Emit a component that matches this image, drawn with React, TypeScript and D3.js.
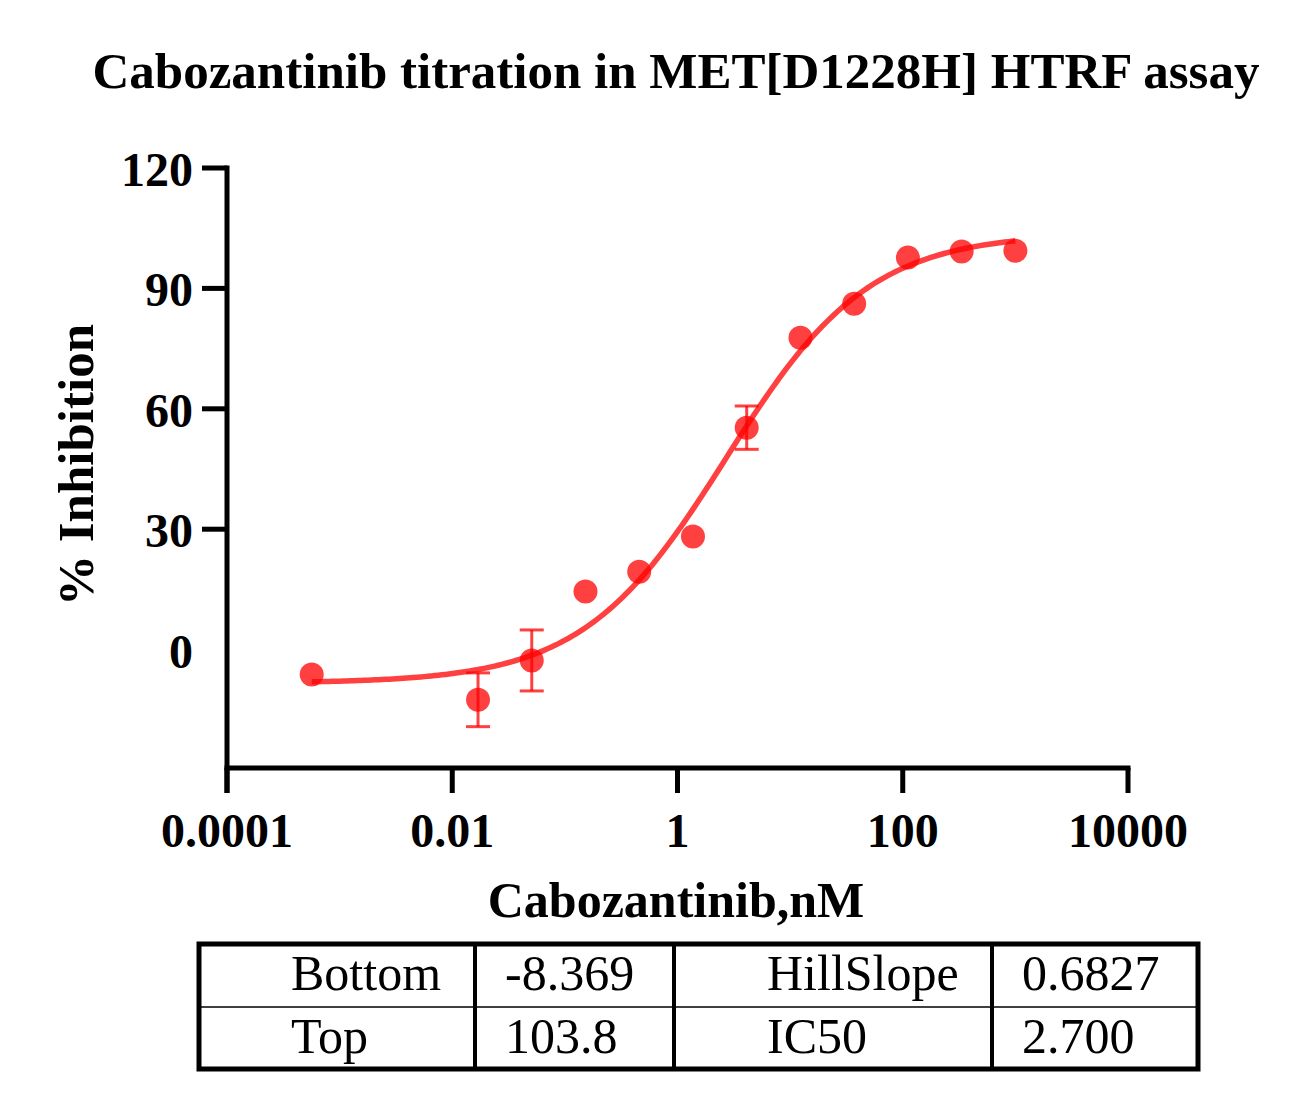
import { useMemo } from 'react'
import { scaleLog, scaleLinear, line, range } from 'd3'

// Cabozantinib concentrations (nM) and mean % inhibition with error (SD)
const CONC = [0.000565, 0.01694, 0.0508, 0.1524, 0.457, 1.372, 4.115, 12.35, 37.04, 111.1, 333.3, 1000]
const INHIBITION = [-6.2, -12.5, -2.7, 14.5, 19.4, 28.2, 55.3, 77.7, 86.2, 97.7, 99.2, 99.4]
const ERROR = [0, 6.7, 7.6, 0, 0, 0, 5.4, 0, 0, 0, 0, 0]

const X_TICKS = [0.0001, 0.01, 1, 100, 10000]
const X_TICK_LABELS = ['0.0001', '0.01', '1', '100', '10000']
const Y_TICKS = [120, 90, 60, 30]
const Y_LABELS = [120, 90, 60, 30, 0]

// fitted 4PL parameters, shown in the table under the plot
const FIT_NAMES = ['Bottom', 'Top', 'HillSlope', 'IC50']
const FIT_VALUES = [-8.369, 103.8, 0.6827, 2.7]
const FIT_TEXT = ['-8.369', '103.8', '0.6827', '2.700']

const RED = '#ff0000'
const SERIF = '"Liberation Serif", "Times New Roman", serif'

export default function App() {
  const x = scaleLog().domain([1e-4, 1e4]).range([227, 1128])
  const y = scaleLinear().domain([-29.5, 120]).range([768, 168])

  const curve = useMemo(() => {
    const [bottom, top, hill, ic50] = FIT_VALUES
    const lo = Math.log10(CONC[0])
    const hi = Math.log10(CONC[CONC.length - 1])
    const xs = range(0, 201).map((i) => Math.pow(10, lo + ((hi - lo) * i) / 200))
    const gen = line<number>()
      .x((c) => x(c))
      .y((c) => y(bottom + (top - bottom) / (1 + Math.pow(ic50 / c, hill))))
    return gen(xs) ?? ''
  }, [])

  const rowY = [990, 1053]
  const colX = [291, 505, 767, 1022]

  return (
    <svg width={1304} height={1101} style={{ display: 'block', margin: '-8px' }} fontFamily={SERIF}>
      <rect width={1304} height={1101} fill="#fff" />
      <text x={676} y={88} textAnchor="middle" fontSize={51} fontWeight="bold">
        Cabozantinib titration in MET[D1228H] HTRF assay
      </text>

      {/* axes */}
      <g stroke="#000" strokeWidth={5}>
        <line x1={x(1e-4)} x2={x(1e-4)} y1={y(120) - 2.5} y2={793} />
        <line x1={x(1e-4) - 2.5} x2={x(1e4) + 2.5} y1={768} y2={768} />
        {X_TICKS.map((t) => (
          <line key={t} x1={x(t)} x2={x(t)} y1={768} y2={793} />
        ))}
        {Y_TICKS.map((t) => (
          <line key={t} x1={202} x2={x(1e-4)} y1={y(t)} y2={y(t)} />
        ))}
      </g>
      <g fontSize={48} fontWeight="bold">
        {X_TICKS.map((t, i) => (
          <text key={t} x={x(t)} y={847} textAnchor="middle">
            {X_TICK_LABELS[i]}
          </text>
        ))}
        {Y_LABELS.map((t) => (
          <text key={t} x={193} y={y(t) + 18} textAnchor="end">
            {t}
          </text>
        ))}
      </g>
      <text x={676} y={917} textAnchor="middle" fontSize={50} fontWeight="bold">
        Cabozantinib,nM
      </text>
      <text transform="translate(93,465) rotate(-90)" textAnchor="middle" fontSize={51} fontWeight="bold">
        % Inhibition
      </text>

      {/* fit curve */}
      <path d={curve} fill="none" stroke={RED} strokeOpacity={0.75} strokeWidth={5.5} />

      {/* error bars and points */}
      <g stroke={RED} strokeOpacity={0.75} strokeWidth={3}>
        {CONC.map((c, i) =>
          ERROR[i] > 0 ? (
            <g key={i}>
              <line x1={x(c)} x2={x(c)} y1={y(INHIBITION[i] - ERROR[i])} y2={y(INHIBITION[i] + ERROR[i])} />
              <line x1={x(c) - 12} x2={x(c) + 12} y1={y(INHIBITION[i] + ERROR[i])} y2={y(INHIBITION[i] + ERROR[i])} />
              <line x1={x(c) - 12} x2={x(c) + 12} y1={y(INHIBITION[i] - ERROR[i])} y2={y(INHIBITION[i] - ERROR[i])} />
            </g>
          ) : null
        )}
      </g>
      {CONC.map((c, i) => (
        <circle key={i} cx={x(c)} cy={y(INHIBITION[i])} r={12} fill={RED} fillOpacity={0.75} />
      ))}

      {/* parameter table */}
      <g stroke="#000" fill="none">
        <rect x={199} y={944} width={999} height={125} strokeWidth={5} />
        <line x1={199} x2={1198} y1={1007} y2={1007} strokeWidth={1.5} />
        {[475, 674, 992].map((cx) => (
          <line key={cx} x1={cx} x2={cx} y1={944} y2={1069} strokeWidth={4} />
        ))}
      </g>
      <g fontSize={50}>
        {FIT_NAMES.map((n, i) => {
          const row = i % 2
          const pair = Math.floor(i / 2)
          return (
            <g key={n}>
              <text x={colX[pair * 2]} y={rowY[row]}>
                {n}
              </text>
              <text x={colX[pair * 2 + 1]} y={rowY[row]}>
                {FIT_TEXT[i]}
              </text>
            </g>
          )
        })}
      </g>
    </svg>
  )
}
